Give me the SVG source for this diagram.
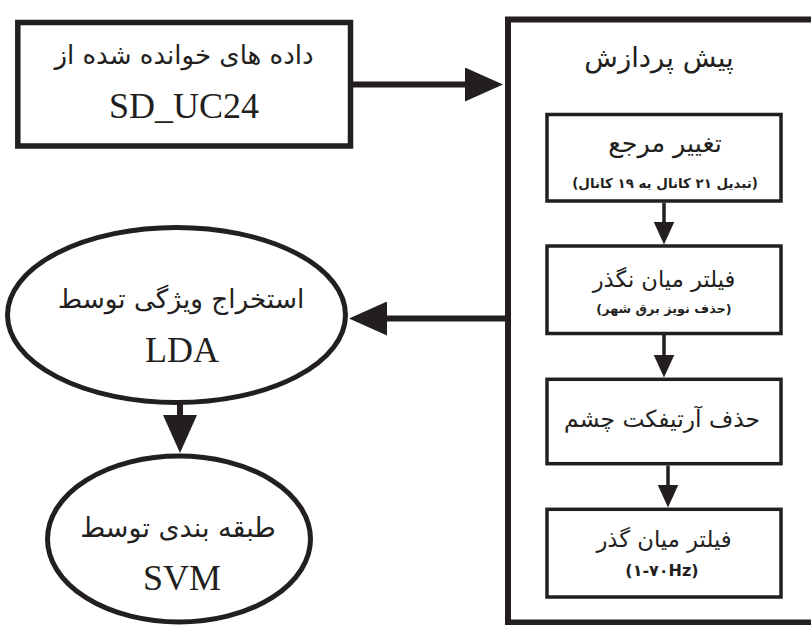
<svg xmlns="http://www.w3.org/2000/svg" width="811" height="625" viewBox="0 0 811 625">
<style>
.fa{font-family:"DejaVu Sans",sans-serif;fill:#231f20;text-anchor:middle;direction:rtl}
.en{font-family:"Liberation Serif","Times New Roman",serif;fill:#231f20;text-anchor:middle;font-size:36px}
.b{font-weight:bold}
.thick{fill:#fff;stroke:#231f20;stroke-width:5.5}
.thin{fill:#fff;stroke:#231f20;stroke-width:3.5}
.con{fill:none;stroke:#231f20}
</style>
<defs>
<marker id="big" markerUnits="userSpaceOnUse" viewBox="0 0 38 34" markerWidth="38" markerHeight="34" refX="1" refY="17" orient="auto">
<path d="M0,0 L38,17 L0,34 Z" fill="#231f20"/>
</marker>
<marker id="small" markerUnits="userSpaceOnUse" viewBox="0 0 23 21" markerWidth="23" markerHeight="21" refX="1" refY="10.5" orient="auto">
<path d="M0,0 L23,10.5 L0,21 Z" fill="#231f20"/>
</marker>
</defs>
<rect width="811" height="625" fill="#fff"/>
<g id="preprocess">
<rect x="508" y="19.5" width="320" height="603" fill="#fff" stroke="#231f20" stroke-width="6"/>
<text class="fa" x="659" y="67" font-size="27.5">پیش پردازش</text>
</g>
<g id="input">
<rect class="thick" x="17.8" y="22.5" width="332.7" height="123.5"/>
<text class="fa" x="184" y="64" font-size="26">داده های خوانده شده از</text>
<text class="en" x="184" y="118">SD_UC24</text>
</g>
<g id="reref">
<rect class="thin" x="547" y="114.5" width="234" height="86.5"/>
<text class="fa" x="665" y="152" font-size="25.4">تغییر مرجع</text>
<text class="fa b" x="665" y="188" font-size="13.4">(تبدیل ۲۱ کانال به ۱۹ کانال)</text>
</g>
<g id="notch">
<rect class="thin" x="547" y="246" width="234" height="87.5"/>
<text class="fa" x="664" y="287" font-size="22.6">فیلتر میان نگذر</text>
<text class="fa b" x="664" y="313" font-size="12.8">(حذف نویز برق شهر)</text>
</g>
<g id="eog">
<rect class="thin" x="547" y="379.3" width="234" height="84.4"/>
<text class="fa" x="662" y="427" font-size="23.4">حذف آرتیفکت چشم</text>
</g>
<g id="bandpass">
<rect class="thin" x="547" y="509.3" width="234" height="87.7"/>
<text class="fa" x="664" y="547" font-size="22.7">فیلتر میان گذر</text>
<text class="fa b" x="662" y="575.5" font-size="16" style="direction:ltr">(۱-۷۰Hz)</text>
</g>
<g id="lda">
<ellipse cx="176.5" cy="315" rx="169" ry="87.5" fill="#fff" stroke="#231f20" stroke-width="5"/>
<text class="fa" x="181" y="308" font-size="26.3">استخراج ویژگی توسط</text>
<text class="en" x="182" y="362">LDA</text>
</g>
<g id="svm">
<ellipse cx="179" cy="539" rx="131.5" ry="83" fill="#fff" stroke="#231f20" stroke-width="5"/>
<text class="fa" x="178" y="537" font-size="27">طبقه بندی توسط</text>
<text class="en" x="182" y="590">SVM</text>
</g>
<g id="connectors">
<line class="con" x1="353" y1="84.5" x2="466" y2="84.5" stroke-width="6" marker-end="url(#big)"/>
<line class="con" x1="505" y1="318.5" x2="386" y2="318.5" stroke-width="6" marker-end="url(#big)"/>
<line class="con" x1="180" y1="404" x2="180" y2="416" stroke-width="6" marker-end="url(#big)"/>
<line class="con" x1="664" y1="203" x2="664" y2="222.5" stroke-width="3.5" marker-end="url(#small)"/>
<line class="con" x1="664" y1="335" x2="664" y2="355.5" stroke-width="3.5" marker-end="url(#small)"/>
<line class="con" x1="668" y1="465.5" x2="668" y2="485.5" stroke-width="3.5" marker-end="url(#small)"/>
</g>
</svg>
